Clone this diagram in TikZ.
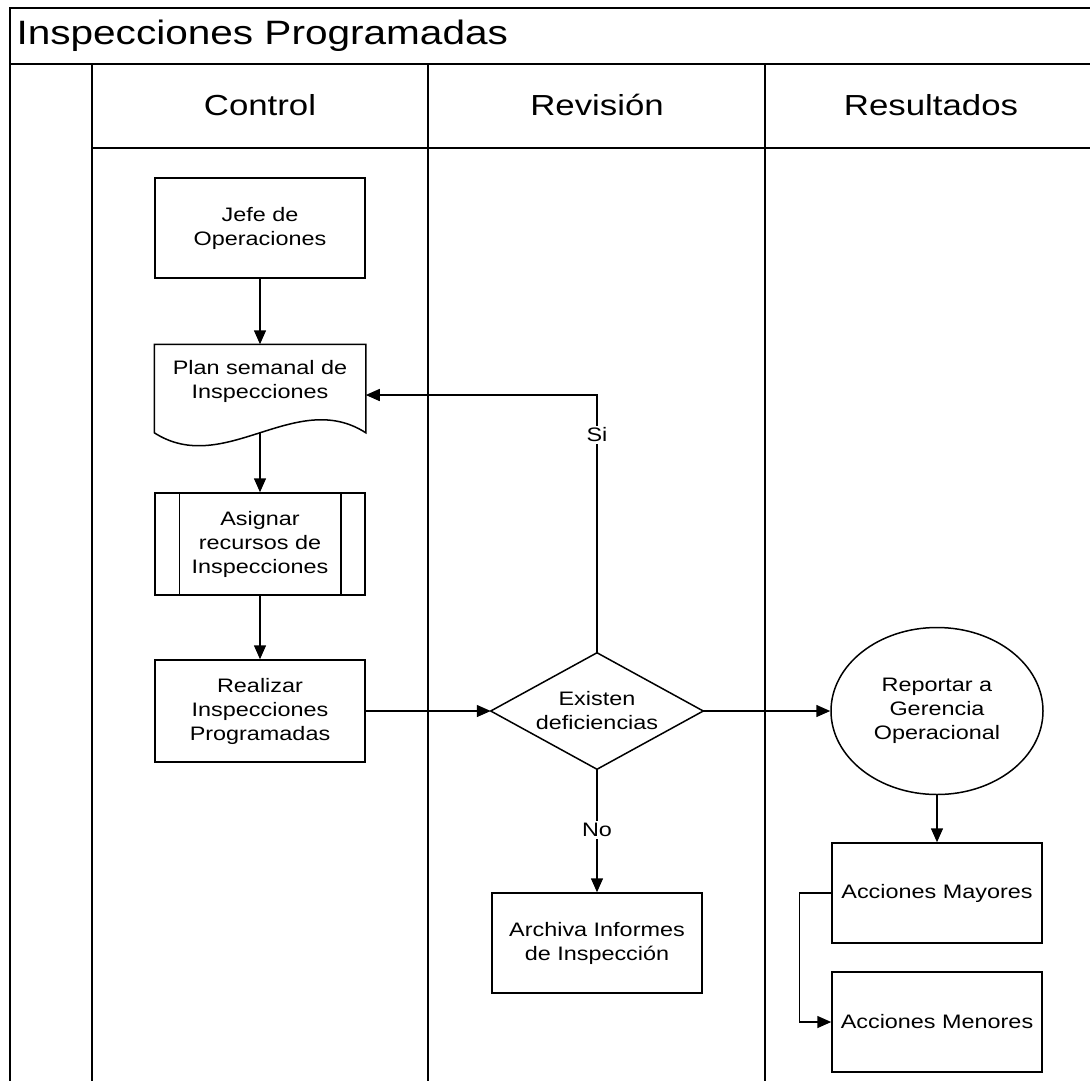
\documentclass[tikz,border=0pt]{standalone}
\usepackage{fontspec}
\setmainfont{Liberation Sans}[FakeStretch=1.2]
\usetikzlibrary{arrows.meta,shapes.geometric}
\tikzset{
  lane/.style={line width=1.5pt},
  box/.style={draw,line width=1.5pt,minimum width=210pt,minimum height=100pt,
    inner sep=0pt,align=center,font=\fontsize{19.5}{24}\selectfont},
  plain/.style={box,draw=none},
  flow/.style={line width=1.5pt,-{Triangle[length=14pt,width=12pt]}},
  lbl/.style={fill=white,inner sep=2pt,font=\fontsize{19.5}{24}\selectfont},
  head/.style={font=\fontsize{29}{34}\selectfont}
}
\begin{document}
\begin{tikzpicture}[x=1pt,y=-1pt]
  \useasboundingbox (0,0) rectangle (1090,1080);
  \draw[lane] (10,1090) -- (10,8) -- (1100,8);
  \draw[line width=2.6pt] (10,64) -- (1100,64);
  \draw[lane] (92,148) -- (1100,148);
  \draw[lane] (92,64) -- (92,1090);
  \draw[lane] (428,64) -- (428,1090);
  \draw[lane] (765,64) -- (765,1090);
  \node[anchor=west,font=\fontsize{33.8}{38}\selectfont] (title) at (13,36) {Inspecciones Programadas};
  \node[head] (control) at (260,105) {Control};
  \node[head] (revision) at (597,105) {Revisión};
  \node[head] (resultados) at (931,105) {Resultados};

  \node[box] (jefe) at (260,228) {Jefe de\\Operaciones};
  \node[plain,minimum height=72pt] (plan) at (260,381) {Plan semanal de\\Inspecciones};
  \draw[line width=1.5pt] (plan.north west) -- (plan.north east) -- ([yshift=-15pt]plan.south east)
    .. controls +(-70pt,45pt) and +(70pt,-45pt) .. ([yshift=-15pt]plan.south west) -- cycle;
  \coordinate (planout) at ([yshift=-15pt]plan.south);
  \node[box,minimum height=102pt] (asig) at (260,544) {Asignar\\recursos de\\Inspecciones};
  \draw[line width=1.5pt] ([xshift=25pt]asig.north west) -- ([xshift=25pt]asig.south west);
  \draw[line width=1.5pt] ([xshift=-25pt]asig.north east) -- ([xshift=-25pt]asig.south east);
  \node[box,minimum height=102pt] (real) at (260,711) {Realizar\\Inspecciones\\Programadas};
  \node[plain,minimum width=211pt,minimum height=115pt] (dec) at (597,711) {Existen\\deficiencias};
  \draw[line width=1.5pt] (dec.north) -- (dec.east) -- (dec.south) -- (dec.west) -- cycle;
  \node[box,ellipse,minimum width=212pt,minimum height=167pt] (rep) at (937,711) {Reportar a\\Gerencia\\Operacional};
  \node[box] (arch) at (597,943) {Archiva Informes\\de Inspección};
  \node[box] (may) at (937,893) {Acciones Mayores};
  \node[box] (men) at (937,1022) {Acciones Menores};

  \begin{scope}[flow]
    \draw (jefe) -- (plan);
    \draw (planout) -- (asig);
    \draw (asig) -- (real);
    \draw (real) -- (dec.west);
    \draw (dec.east) -- (rep);
    \draw (dec.north) |- ([yshift=-14pt]plan.east);
    \draw (dec.south) -- (arch);
    \draw (rep) -- (may);
    \draw (may.west) -- ++(-32pt,0pt) |- (men.west);
  \end{scope}
  \node[lbl] (si) at (597,435) {Si};
  \node[lbl] (no) at (597,830) {No};
\end{tikzpicture}
\end{document}
